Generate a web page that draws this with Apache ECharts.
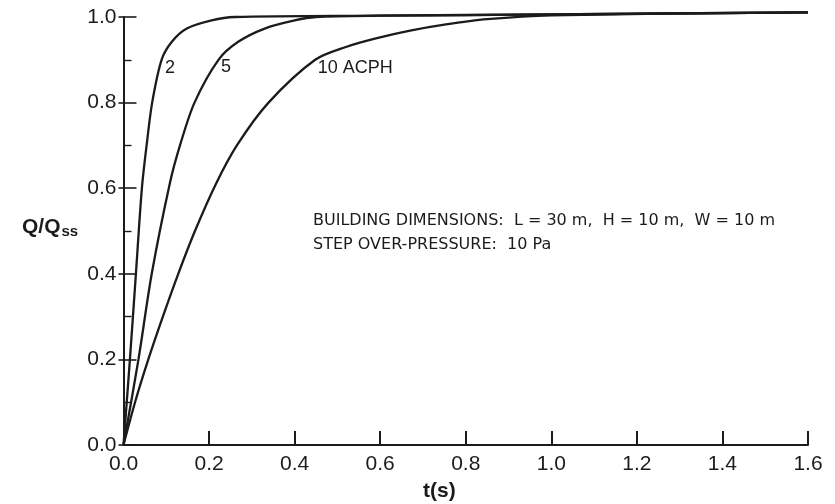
<!DOCTYPE html>
<html>
<head>
<meta charset="utf-8">
<script src="https://cdn.jsdelivr.net/npm/echarts@6/dist/echarts.min.js"></script>
<style>
  html, body { margin: 0; background: #fff; }
  #chart { width: 835px; height: 504px; }
</style>
</head>
<body>
<div id="chart"></div>
<script>
// values
const t2 = [0, 0.015, 0.029, 0.043, 0.054, 0.067, 0.089, 0.113, 0.148, 0.206, 0.26, 0.6, 1.0, 1.6];
const q2 = [0, 0.2, 0.4, 0.6, 0.7, 0.8, 0.9, 0.942, 0.973, 0.992, 1.0, 1.003, 1.006, 1.011];

const t5 = [0, 0.035, 0.066, 0.108, 0.132, 0.166, 0.222, 0.268, 0.33, 0.40, 0.45, 0.6, 1.0, 1.6];
const q5 = [0, 0.2, 0.4, 0.61, 0.7, 0.8, 0.9, 0.942, 0.973, 0.992, 1.0, 1.003, 1.006, 1.011];

const t10 = [0, 0.027, 0.058, 0.092, 0.128, 0.167, 0.216, 0.265, 0.339, 0.448, 0.52, 0.59, 0.67, 0.75, 0.85, 1.0, 1.6];
const q10 = [0, 0.1, 0.2, 0.3, 0.4, 0.5, 0.61, 0.7, 0.8, 0.9, 0.93, 0.95, 0.968, 0.982, 0.995, 1.004, 1.011];

const curveNames = ['2', '5', '10 ACPH'];
const labelPos = [[0.097, 0.88], [0.228, 0.884], [0.454, 0.88]];

const noteLines = [
  'BUILDING DIMENSIONS:  L = 30 m,  H = 10 m,  W = 10 m',
  'STEP OVER-PRESSURE:  10 Pa'
];

const ink = '#1b1b1b';
const tickFont = 'Liberation Sans';

const pairs = (ts, qs) => ts.map((t, i) => [t, qs[i]]);
const curves = [pairs(t2, q2), pairs(t5, q5), pairs(t10, q10)];

const chart = echarts.init(document.getElementById('chart'));

const series = curves.map((data, i) => ({
  type: 'line',
  data: data,
  smooth: 0.3,
  showSymbol: false,
  clip: false,
  lineStyle: { color: ink, width: 2.3 },
  markPoint: {
    symbol: 'circle',
    symbolSize: 0,
    data: [{ coord: labelPos[i] }],
    label: {
      show: true,
      position: 'right',
      distance: 0,
      formatter: curveNames[i],
      color: ink,
      fontFamily: tickFont,
      fontSize: 18
    }
  }
}));

chart.setOption({
  animation: false,
  backgroundColor: '#fff',
  grid: { left: 123.5, right: 27, top: 17, bottom: 59 },
  xAxis: {
    type: 'value',
    min: 0,
    max: 1.6,
    interval: 0.2,
    splitLine: { show: false },
    axisLine: { lineStyle: { color: ink, width: 2 } },
    axisTick: { inside: true, length: 14, lineStyle: { color: ink, width: 2 } },
    axisLabel: {
      margin: 9,
      color: ink,
      fontFamily: tickFont,
      fontSize: 21,
      formatter: (v) => v.toFixed(1)
    }
  },
  yAxis: [
    {
      type: 'value',
      min: 0,
      max: 1.0,
      interval: 0.2,
      splitLine: { show: false },
      axisLine: { show: true, lineStyle: { color: ink, width: 2 } },
      axisTick: { inside: true, length: 13, lineStyle: { color: ink, width: 1.6 } },
      minorTick: { show: true, splitNumber: 2, length: 8, lineStyle: { color: ink, width: 1.4 } },
      axisLabel: {
        margin: 7,
        color: ink,
        fontFamily: tickFont,
        fontSize: 21,
        formatter: (v) => v.toFixed(1)
      }
    },
    {
      // outer stub of the major ticks, which cross the axis line
      type: 'value',
      position: 'left',
      min: 0,
      max: 1.0,
      interval: 0.2,
      splitLine: { show: false },
      axisLine: { show: false },
      axisTick: { show: true, inside: false, length: 5, lineStyle: { color: ink, width: 1.6 } },
      axisLabel: { show: false }
    }
  ],
  graphic: [
    {
      type: 'text',
      left: 22,
      top: 214,
      style: {
        text: '{q|Q/Q}{s|ss}',
        rich: {
          q: { fontFamily: tickFont, fontSize: 21, fontWeight: 'bold', fill: ink, lineHeight: 24 },
          s: { fontFamily: tickFont, fontSize: 15, fontWeight: 'bold', fill: ink, verticalAlign: 'bottom', lineHeight: 24, padding: [10, 0, 0, 1] }
        }
      }
    },
    {
      type: 'text',
      left: 423,
      top: 481,
      style: { text: 't(s)', fontFamily: tickFont, fontSize: 21, fontWeight: 'bold', fill: ink }
    },
    {
      type: 'text',
      left: 313,
      top: 213,
      style: { text: noteLines[0], fontFamily: 'DejaVu Sans', fontSize: 16, fill: ink }
    },
    {
      type: 'text',
      left: 313,
      top: 237,
      style: { text: noteLines[1], fontFamily: 'DejaVu Sans', fontSize: 16, fill: ink }
    }
  ],
  series: series
});
</script>
</body>
</html>
